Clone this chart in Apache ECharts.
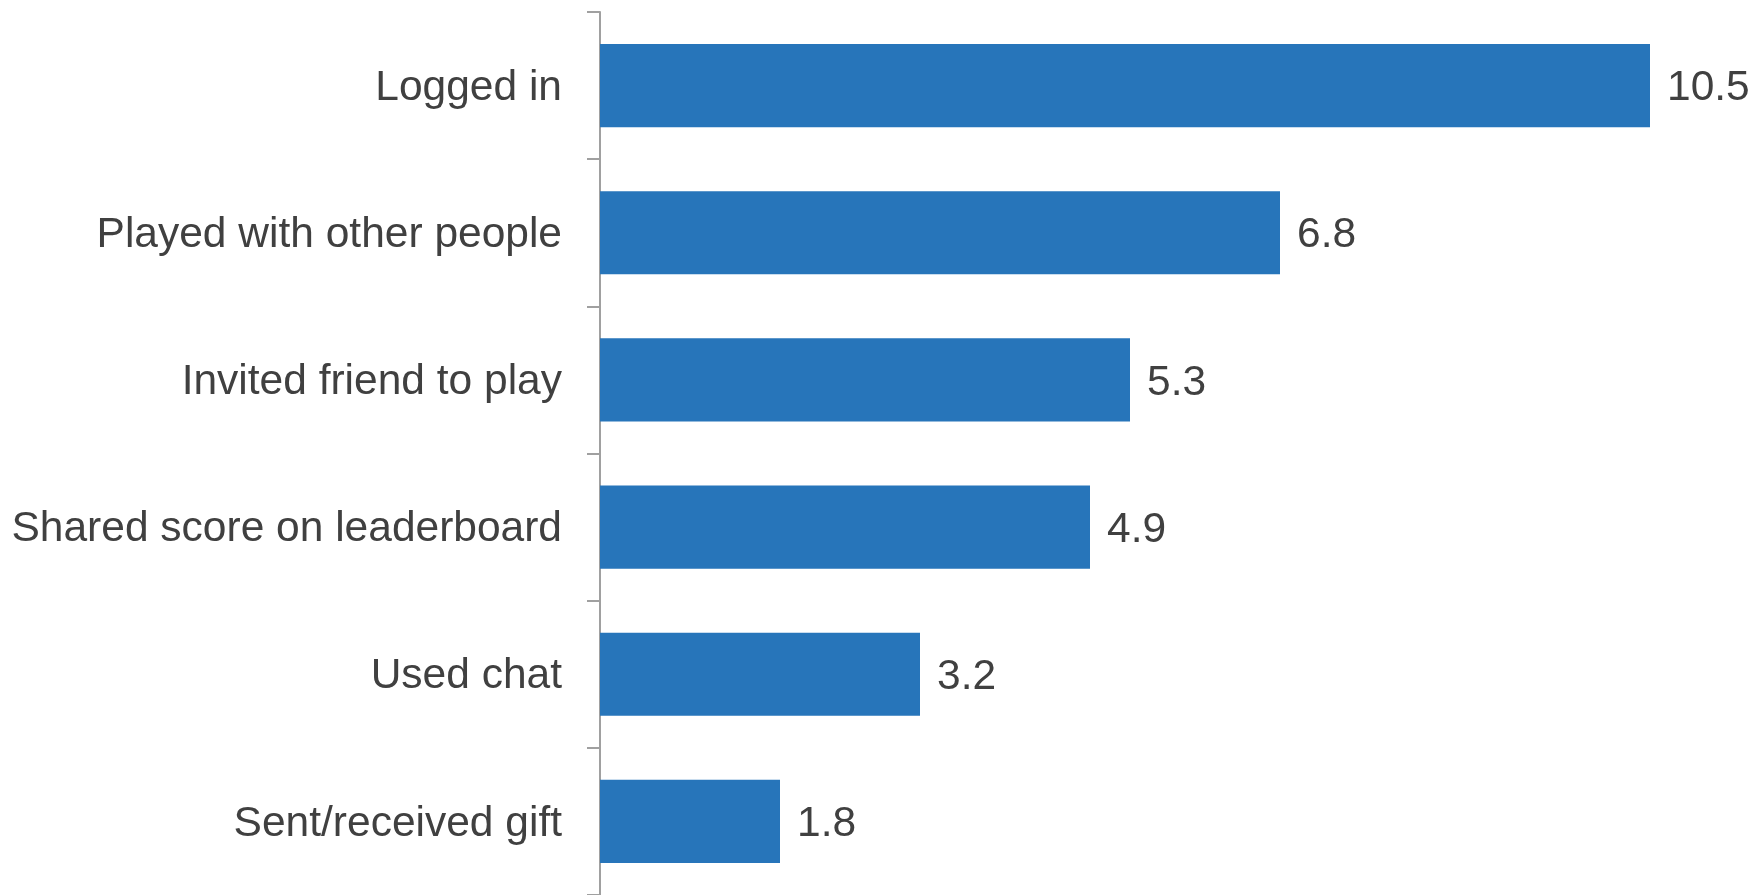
<!DOCTYPE html>
<html>
<head>
<meta charset="utf-8">
<title>Social actions</title>
<script src="https://cdn.jsdelivr.net/npm/echarts@6/dist/echarts.min.js"></script>
<style>
  html, body { margin: 0; padding: 0; background: #ffffff; }
  #chart { width: 1756px; height: 895px; }
</style>
</head>
<body>
<div id="chart"></div>
<script>
// Actions, listed top to bottom
const categories = [
  'Logged in',
  'Played with other people',
  'Invited friend to play',
  'Shared score on leaderboard',
  'Used chat',
  'Sent/received gift'
];
// Value for each action
const values = [10.5, 6.8, 5.3, 4.9, 3.2, 1.8];

const chart = echarts.init(document.getElementById('chart'), null, { renderer: 'canvas' });
const font = '"Liberation Sans", Arial, Helvetica, sans-serif';
const textColor = '#404040';

chart.setOption({
  animation: false,
  backgroundColor: '#ffffff',
  grid: { left: 600, right: 56, top: 12, bottom: -2, containLabel: false },
  xAxis: {
    type: 'value',
    min: 0,
    max: 11,
    show: false
  },
  yAxis: {
    type: 'category',
    data: categories,
    inverse: true,
    axisLine: { show: true, lineStyle: { color: '#a0a0a0', width: 2 } },
    axisTick: { show: true, length: 13, lineStyle: { color: '#a0a0a0', width: 2 } },
    axisLabel: {
      margin: 38,
      formatter: '{t|{value}}',
      rich: {
        t: {
          color: textColor,
          fontFamily: font,
          fontSize: 42.5,
          padding: [5, 0, 0, 0]
        }
      }
    },
    splitLine: { show: false }
  },
  series: [{
    type: 'bar',
    data: values,
    barCategoryGap: '43.5%',
    itemStyle: { color: '#2775BA' },
    label: {
      show: true,
      position: 'right',
      distance: 17,
      offset: [0, 3],
      color: textColor,
      fontFamily: font,
      fontSize: 42.5
    }
  }]
});
</script>
</body>
</html>
